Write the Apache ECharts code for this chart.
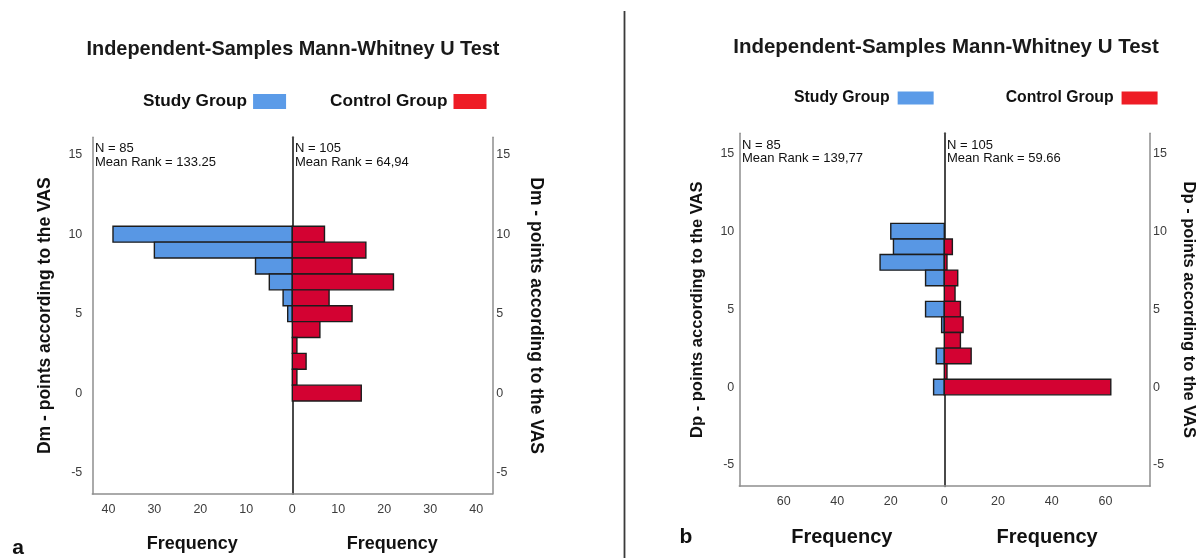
<!DOCTYPE html>
<html>
<head>
<meta charset="utf-8">
<script src="https://cdn.jsdelivr.net/npm/echarts@6/dist/echarts.min.js"></script>
<style>
  html, body { margin: 0; padding: 0; background: #ffffff; }
  #chart { width: 1200px; height: 558px; }
</style>
</head>
<body>
<div id="chart"></div>
<script>
// VAS score rows and the frequency of each score per group
const scores = [10, 9, 8, 7, 6, 5, 4, 3, 2, 1, 0];
const dmStudy = [39, 30, 8, 5, 2, 1, 0, 0, 0, 0, 0];
const dmControl = [7, 16, 13, 22, 8, 13, 6, 1, 3, 1, 15];
const dpStudy = [20, 19, 24, 7, 0, 7, 1, 0, 3, 0, 4];
const dpControl = [0, 3, 1, 5, 4, 6, 7, 6, 10, 1, 62];

// tick labels
const yTicks = [-5, 0, 5, 10, 15];
const dmFreqTicksLeft = [0, 10, 20, 30, 40];
const dmFreqTicksRight = [10, 20, 30, 40];
const dpFreqTicksLeft = [0, 20, 40, 60];
const dpFreqTicksRight = [20, 40, 60];

// texts
const groups = ['Study Group', 'Control Group'];
const panelTitle = 'Independent-Samples Mann-Whitney U Test';
const dmAxisName = 'Dm - points according to the VAS';
const dpAxisName = 'Dp - points according to the VAS';
const freqName = 'Frequency';
const dmStats = ['N = 85\nMean Rank = 133.25', 'N = 105\nMean Rank = 64,94'];
const dpStats = ['N = 85\nMean Rank = 139,77', 'N = 105\nMean Rank = 59.66'];

const FONT = '"Liberation Sans", Arial, sans-serif';
const BLUE = '#5897e4';
const RED = '#d30232';
const LEGEND_BLUE = '#5b9be8';
const LEGEND_RED = '#ee1c25';
const FRAME = '#8e8e8e';

const chart = echarts.init(document.getElementById('chart'), null, { renderer: 'canvas' });

// horizontal bar of height one score unit, drawn from the axes' scales
function barItem(color) {
  return function (params, api) {
    const v = api.value(0);
    const y = api.value(1);
    if (!v) return null;
    const a = api.coord([0, y + 0.5]);
    const b = api.coord([v, y - 0.5]);
    return {
      type: 'rect',
      shape: {
        x: Math.min(a[0], b[0]),
        y: Math.min(a[1], b[1]),
        width: Math.abs(b[0] - a[0]),
        height: Math.abs(b[1] - a[1])
      },
      style: { fill: color, stroke: '#1c1c1c', lineWidth: 1.4 }
    };
  };
}

function pairs(values) {
  return values.map((v, i) => [v, scores[i]]);
}

// panel geometry
const panels = [
  { left: 92.3, center: 292.3, right: 492.3, top: 137.3, bottom: 497.7, ymin: -6.35, ymax: 16.1, xmax: 43.5 },
  { left: 739.3, center: 944.3, right: 1150, top: 133.3, bottom: 486.2, ymin: -6.36, ymax: 16.28, xmax: 76.6 }
];

const grids = [];
panels.forEach(p => {
  grids.push({ left: p.left, top: p.top, width: p.center - p.left, height: p.bottom - p.top });
  grids.push({ left: p.center, top: p.top, width: p.right - p.center, height: p.bottom - p.top });
});

const tickLabel = { fontFamily: FONT, fontSize: 12.5, color: '#3c3c3c' };
const nameStyle = (size) => ({ fontFamily: FONT, fontSize: size, fontWeight: 'bold', color: '#111111' });

function xAxis(gridIndex, max, inverse, ticks, nameGap, nameSize) {
  return {
    type: 'value', gridIndex, min: 0, max, inverse,
    axisLine: { show: true, onZero: false, lineStyle: { color: FRAME, width: 1.5 } },
    axisTick: { show: false },
    splitLine: { show: false },
    axisLabel: Object.assign({ customValues: ticks, margin: 9, showMinLabel: true, showMaxLabel: true }, tickLabel),
    name: freqName, nameLocation: 'middle', nameGap,
    nameTextStyle: nameStyle(nameSize)
  };
}

function yAxis(gridIndex, p, position, opts) {
  return Object.assign({
    type: 'value', gridIndex, position, min: p.ymin, max: p.ymax,
    axisLine: { show: true, onZero: false, lineStyle: { color: FRAME, width: 1.5 } },
    axisTick: { show: false },
    splitLine: { show: false },
    axisLabel: { show: false }
  }, opts);
}

const xAxes = [
  xAxis(0, panels[0].xmax, true, dmFreqTicksLeft, 41, 18),
  xAxis(1, panels[0].xmax, false, dmFreqTicksRight, 41, 18),
  xAxis(2, panels[1].xmax, true, dpFreqTicksLeft, 41, 20),
  xAxis(3, panels[1].xmax, false, dpFreqTicksRight, 41, 20)
];

function labelled(ticks, margin) {
  return Object.assign({ customValues: ticks, margin, show: true }, tickLabel);
}

const yAxes = [
  // left chart: left half
  yAxis(0, panels[0], 'left', {
    axisLabel: labelled(yTicks, 10),
    name: dmAxisName, nameLocation: 'middle', nameGap: 38, nameTextStyle: nameStyle(17.5)
  }),
  // left chart: right half with outer frame line
  yAxis(1, panels[0], 'right', {
    axisLabel: labelled(yTicks, 4),
    name: dmAxisName, nameLocation: 'middle', nameGap: 35, nameRotate: -90, nameTextStyle: nameStyle(17.5)
  }),
  // left chart: center line
  yAxis(1, panels[0], 'left', { axisLine: { show: true, onZero: false, lineStyle: { color: '#4a4a4a', width: 2 } } }),
  // right chart: left half
  yAxis(2, panels[1], 'left', {
    axisLabel: labelled(yTicks, 5),
    name: dpAxisName, nameLocation: 'middle', nameGap: 33, nameTextStyle: nameStyle(16.5)
  }),
  // right chart: right half with outer frame line
  yAxis(3, panels[1], 'right', {
    axisLabel: labelled(yTicks, 3),
    name: dpAxisName, nameLocation: 'middle', nameGap: 30, nameRotate: -90, nameTextStyle: nameStyle(16.5)
  }),
  // right chart: center line
  yAxis(3, panels[1], 'left', { axisLine: { show: true, onZero: false, lineStyle: { color: '#4a4a4a', width: 2 } } })
];

function barSeries(name, values, xi, yi, color) {
  return {
    type: 'custom', name, xAxisIndex: xi, yAxisIndex: yi,
    itemStyle: { color },
    encode: { x: 0, y: 1 },
    data: pairs(values),
    renderItem: barItem(color)
  };
}

const series = [
  barSeries(groups[0], dmStudy, 0, 0, BLUE),
  barSeries(groups[1], dmControl, 1, 1, RED),
  barSeries(groups[0], dpStudy, 2, 3, BLUE),
  barSeries(groups[1], dpControl, 3, 4, RED)
];

const legendData = [
  { name: groups[0], itemStyle: { color: LEGEND_BLUE } },
  { name: groups[1], itemStyle: { color: LEGEND_RED } }
];

function statText(x, y, text, lh) {
  return {
    type: 'text', x, y,
    style: { text, fontFamily: FONT, fontSize: 13, fill: '#111111', lineHeight: lh, verticalAlign: 'top' }
  };
}

chart.setOption({
  animation: false,
  backgroundColor: '#ffffff',
  title: [
    { text: panelTitle, left: 293, top: 40, textAlign: 'center', padding: 0,
      textStyle: { fontFamily: FONT, fontSize: 19.9, fontWeight: 'bold', color: '#1a1a1a' } },
    { text: panelTitle, left: 946, top: 37, textAlign: 'center', padding: 0,
      textStyle: { fontFamily: FONT, fontSize: 20.5, fontWeight: 'bold', color: '#1a1a1a' } }
  ],
  legend: [
    { left: 143, top: 93, align: 'right', icon: 'rect', itemWidth: 33, itemHeight: 15, itemGap: 44, padding: 0,
      selectedMode: false, data: legendData,
      textStyle: { fontFamily: FONT, fontSize: 17.2, fontWeight: 'bold', color: '#111111', padding: [0, 1, 0, 0] } },
    { left: 794, top: 90, align: 'right', icon: 'rect', itemWidth: 36, itemHeight: 13, itemGap: 72, padding: 0,
      selectedMode: false, data: legendData,
      textStyle: { fontFamily: FONT, fontSize: 15.8, fontWeight: 'bold', color: '#111111', padding: [0, 3, 0, 0] } }
  ],
  grid: grids,
  xAxis: xAxes,
  yAxis: yAxes,
  series,
  graphic: [
    statText(95, 141, dmStats[0], 14),
    statText(295, 141, dmStats[1], 14),
    statText(742, 138.5, dpStats[0], 13.5),
    statText(947, 138.5, dpStats[1], 13.5),
    { type: 'text', x: 18, y: 548,
      style: { text: 'a', fontFamily: FONT, fontSize: 21, fontWeight: 'bold', fill: '#111111', align: 'center', verticalAlign: 'middle' } },
    { type: 'text', x: 686, y: 537,
      style: { text: 'b', fontFamily: FONT, fontSize: 21, fontWeight: 'bold', fill: '#111111', align: 'center', verticalAlign: 'middle' } },
    { type: 'line', shape: { x1: 624.5, y1: 11, x2: 624.5, y2: 558 },
      style: { stroke: '#3a3a3a', lineWidth: 1.8 } }
  ]
});
</script>
</body>
</html>
